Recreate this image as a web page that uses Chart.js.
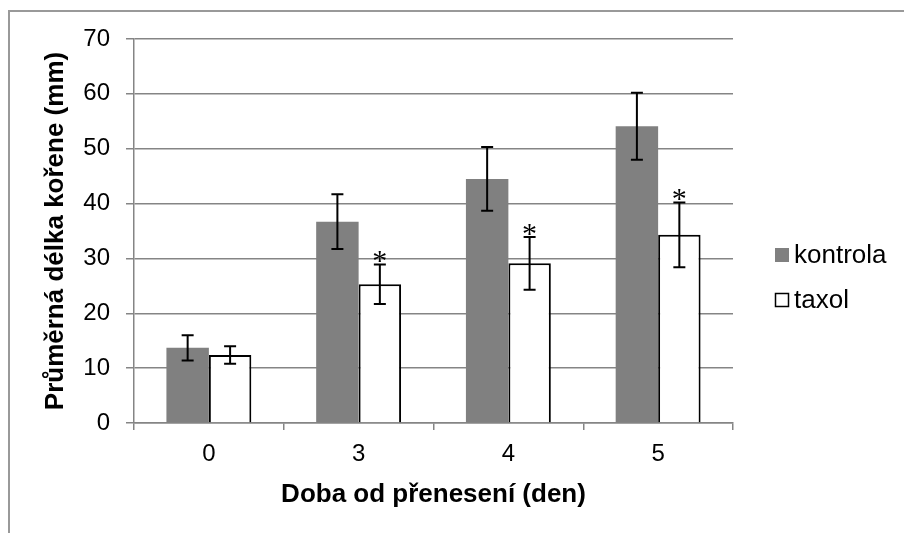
<!DOCTYPE html>
<html>
<head>
<meta charset="utf-8">
<script src="https://cdn.jsdelivr.net/npm/chart.js@4/dist/chart.umd.min.js"></script>
<style>
body{margin:0;background:#fff;}
#wrap{position:relative;width:904px;height:533px;overflow:hidden;}
#frame{position:absolute;left:8px;top:10px;width:1000px;height:600px;border-left:2px solid #999;border-top:2px solid #999;}
#c{position:absolute;left:0;top:0;}
</style>
</head>
<body>
<div id="wrap">
<div id="frame"></div>
<canvas id="c" width="904" height="533"></canvas>
</div>
<script>
/* DATA */
let days=["0","3","4","5"];
let seriesNames=["kontrola","taxol"];
let kontrola=[13.7,36.7,44.5,54.1];
let kontrolaErr=[2.3,5.0,5.8,6.1];
let taxol=[12.4,25.3,29.1,34.3];
let taxolErr=[1.6,3.6,4.8,5.9];
let taxolStar=[false,true,true,true];
let yMin=0,yMax=70,yStep=10;

let errors=[kontrolaErr,taxolErr];
let stars=[[false,false,false,false],taxolStar];

let gridGray="#858585";
let font="'Liberation Sans', Arial, sans-serif";

/* ERROR BARS + STARS */
let errorBars={
id:"errorBars",
afterDatasetsDraw(chart){
let ctx=chart.ctx;
let y=chart.scales.y;
chart.data.datasets.forEach((ds,d)=>{
let meta=chart.getDatasetMeta(d);
meta.data.forEach((bar,i)=>{
let v=ds.data[i],e=errors[d][i];
let top=y.getPixelForValue(v+e);
let bot=y.getPixelForValue(v-e);
ctx.save();
ctx.strokeStyle="#000";
ctx.lineWidth=2;
ctx.beginPath();
ctx.moveTo(bar.x,top);ctx.lineTo(bar.x,bot);
ctx.moveTo(bar.x-6,top);ctx.lineTo(bar.x+6,top);
ctx.moveTo(bar.x-6,bot);ctx.lineTo(bar.x+6,bot);
ctx.stroke();
if(stars[d][i]){
ctx.fillStyle="#000";
ctx.font="30px 'Liberation Serif', 'Times New Roman', serif";
ctx.textAlign="center";
ctx.textBaseline="alphabetic";
ctx.fillText("*",bar.x,top+6);
}
ctx.restore();
});
});
}
};

/* LEGEND (Excel style, right side) */
let sideLegend={
id:"sideLegend",
afterDraw(chart){
let ctx=chart.ctx;
let rows=[255,300];
ctx.save();
ctx.font="26px "+font;
ctx.textBaseline="middle";
ctx.textAlign="left";
chart.data.datasets.forEach((ds,d)=>{
let cy=rows[d];
ctx.fillStyle=ds.backgroundColor;
ctx.fillRect(775,cy-7,14,14);
if(ds.borderWidth){
ctx.strokeStyle=ds.borderColor;
ctx.lineWidth=1.5;
ctx.strokeRect(775.5,cy-6.5,13,13);
}
ctx.fillStyle="#000";
ctx.fillText(ds.label,794,cy+1);
});
ctx.restore();
}
};

new Chart(document.getElementById("c"),{
type:"bar",
data:{
labels:days,
datasets:[
{label:seriesNames[0],data:kontrola,backgroundColor:"#808080",borderWidth:0},
{label:seriesNames[1],data:taxol,backgroundColor:"#ffffff",borderColor:"#000000",borderWidth:2}
]
},
options:{
responsive:false,
animation:false,
events:[],
categoryPercentage:0.567,
barPercentage:1,
layout:{padding:{left:0,top:39,right:171,bottom:0}},
plugins:{legend:{display:false},tooltip:{enabled:false}},
scales:{
x:{
offset:true,
grid:{offset:true,drawOnChartArea:false,drawTicks:true,tickLength:7,color:gridGray,lineWidth:1.5},
border:{display:true,color:gridGray,width:1.5},
ticks:{color:"#000",font:{family:font,size:24},padding:10},
title:{display:true,text:"Doba od přenesení (den)",color:"#000",font:{family:font,size:26,weight:"bold"},padding:{top:0,bottom:23}},
afterFit(s){s.height=533-423;}
},
y:{
min:yMin,max:yMax,
grid:{color:gridGray,lineWidth:1.5,tickLength:8},
border:{display:true,color:gridGray,width:1.5},
ticks:{stepSize:yStep,color:"#000",font:{family:font,size:24},padding:16},
title:{display:true,text:"Průměrná délka kořene (mm)",color:"#000",font:{family:font,size:26,weight:"bold"},padding:{top:40,bottom:0}},
afterFit(s){s.width=134;}
}
}
},
plugins:[errorBars,sideLegend]
});
</script>
</body>
</html>
